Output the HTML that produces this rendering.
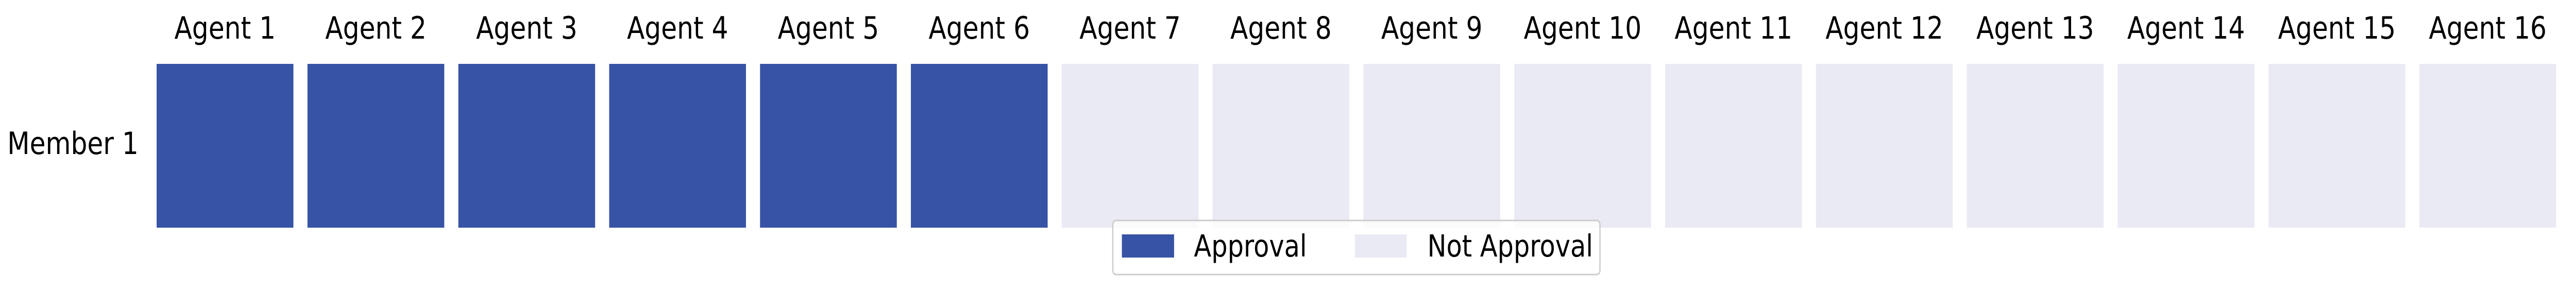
<!DOCTYPE html>
<html><head><meta charset="utf-8"><style>
html,body{margin:0;padding:0;background:#fff;width:100%;height:100%;overflow:hidden;}
svg{display:block;width:100vw;height:100vh;}
svg text{font-family:"DejaVu Sans","Liberation Sans",sans-serif;}
</style></head><body>
<svg id="chart" viewBox="0 0 5970 563" preserveAspectRatio="none" xmlns="http://www.w3.org/2000/svg">
<text x="321" y="299" font-size="60" text-anchor="end">Member 1</text>
<g id="cells"></g>
<g id="collabels"></g>
<g>
<rect x="2579" y="428" width="1129" height="105" rx="8" fill="#fff" fill-opacity="0.8" stroke="#cccccc" stroke-width="3"/>
<rect x="2600" y="455" width="121" height="45" fill="#3753a5"/>
<text x="2767" y="498" font-size="59">Approval</text>
<rect x="3140" y="455" width="120" height="45" fill="#eaeaf4"/>
<text x="3308" y="498" font-size="59">Not Approval</text>
</g>
</svg>
<script>
const agents=["Agent 1","Agent 2","Agent 3","Agent 4","Agent 5","Agent 6","Agent 7","Agent 8","Agent 9","Agent 10","Agent 11","Agent 12","Agent 13","Agent 14","Agent 15","Agent 16"];
const members=["Member 1"];
const approvals=[[1,1,1,1,1,1,0,0,0,0,0,0,0,0,0,0]];
const NS="http://www.w3.org/2000/svg";
const x0=363,pitch=349.6,cw=317,y0=124,ch=318;
function xPos(i){return x0+i*pitch;}
function yPos(j){return y0+j*ch;}
const cells=document.getElementById('cells'),labs=document.getElementById('collabels');
approvals.forEach((row,j)=>row.forEach((v,i)=>{
 const r=document.createElementNS(NS,'rect');
 r.setAttribute('x',xPos(i));r.setAttribute('y',yPos(j));
 r.setAttribute('width',cw);r.setAttribute('height',ch);
 r.setAttribute('fill',v?'#3753a5':'#eaeaf4');
 
 
 cells.appendChild(r);
}));
agents.forEach((a,i)=>{
 const t=document.createElementNS(NS,'text');
 t.setAttribute('x',xPos(i)+cw/2);t.setAttribute('y',75);
 t.setAttribute('font-size','60');t.setAttribute('text-anchor','middle');
 t.textContent=a;
 
 
 labs.appendChild(t);
});
</script>
</body></html>
